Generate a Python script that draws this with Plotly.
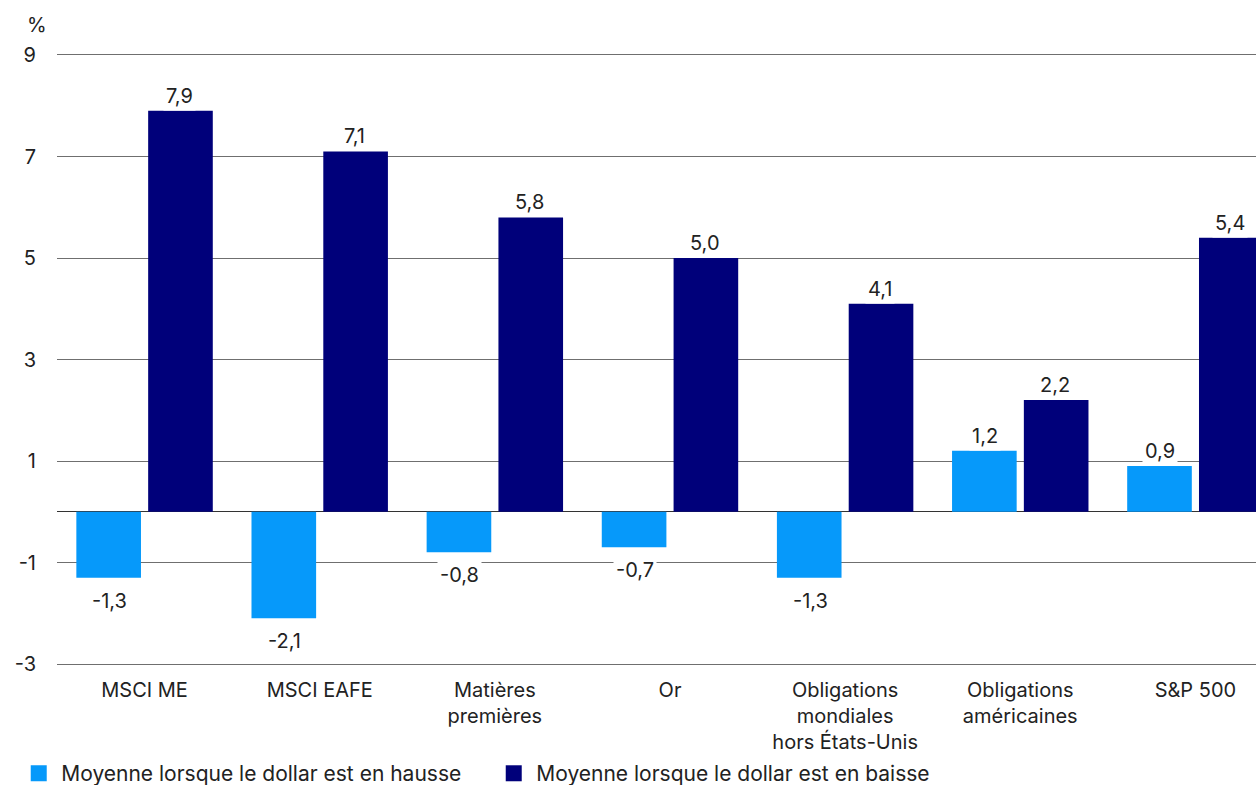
import plotly.graph_objects as go

categories = ["MSCI ME", "MSCI EAFE", "Matières<br>premières", "Or",
              "Obligations<br>mondiales<br>hors États-Unis", "Obligations<br>américaines", "S&P 500"]
hausse = [-1.3, -2.1, -0.8, -0.7, -1.3, 1.2, 0.9]
baisse = [7.9, 7.1, 5.8, 5.0, 4.1, 2.2, 5.4]
names = ["Moyenne lorsque le dollar est en hausse", "Moyenne lorsque le dollar est en baisse"]
colors = ["#0699FA", "#00007A"]
yticks = [-3, -1, 1, 3, 5, 7, 9]

FONT = "Inter, Roboto, sans-serif"
FS = 20

fig = go.Figure()
for vals, name, col in [(hausse, names[0], colors[0]), (baisse, names[1], colors[1])]:
    fig.add_trace(go.Bar(x=categories, y=vals, name=name, marker_color=col,
                         marker_line_width=0, showlegend=False))
# legend entries with larger square swatches
for name, col in zip(names, colors):
    fig.add_trace(go.Scatter(x=[None], y=[None], mode="markers", name=name,
                             marker=dict(symbol="square", size=22, color=col),
                             showlegend=True))

def fmt(v):
    return f"{v:.1f}".replace(".", ",")

annotations = []
for series, shift in [(hausse, -35), (baisse, 35)]:
    for c, v in zip(categories, series):
        annotations.append(dict(
            x=c, y=v, xref="x", yref="y", text=fmt(v), showarrow=False,
            xshift=shift, yshift=0 if v >= 0 else -8,
            yanchor="bottom" if v >= 0 else "top",
            bgcolor="white", borderpad=2,
            font=dict(family=FONT, size=FS, color="#222")))
annotations.append(dict(x=-0.007, y=1.049, xref="paper", yref="paper", text="%",
                        showarrow=False, xanchor="right", yanchor="middle",
                        font=dict(family=FONT, size=FS, color="#222")))

fig.update_layout(
    width=1256, height=785,
    margin=dict(l=57, r=0, t=55, b=121, autoexpand=False),
    paper_bgcolor="white", plot_bgcolor="white",
    barmode="group", bargap=0.18, bargroupgap=0.1,
    font=dict(family=FONT, size=FS, color="#222"),
    showlegend=True,
    legend=dict(orientation="h", x=-0.034, xanchor="left", y=-0.18, yanchor="middle",
                font=dict(family=FONT, size=21, color="#222"), itemwidth=35,
                entrywidth=425, entrywidthmode="pixels",
                itemsizing="trace", tracegroupgap=0, traceorder="normal"),
    annotations=annotations,
)
fig.update_yaxes(range=[-3, 9], tickvals=yticks, ticktext=[str(t) for t in yticks],
                 showgrid=True, gridcolor="#6f6f6f", gridwidth=1,
                 zeroline=True, zerolinecolor="#333", zerolinewidth=1,
                 ticklabelstandoff=20, tickfont=dict(size=FS, color="#222"),
                 showline=False, automargin=False)
fig.update_xaxes(range=[-0.5, 6.346], showline=True, mirror=True, linecolor="#6f6f6f",
                 linewidth=1, ticks="", tickfont=dict(size=FS, color="#222"),
                 ticklabelstandoff=8, automargin=False)

fig.write_html("out.html")
